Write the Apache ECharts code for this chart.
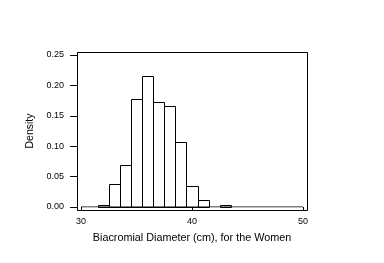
<!DOCTYPE html>
<html><head><meta charset="utf-8">
<script src="https://cdn.jsdelivr.net/npm/echarts@6/dist/echarts.min.js"></script>
<style>html,body{margin:0;padding:0;background:#fff}#c{width:384px;height:263px}</style>
</head><body><div id="c"></div>
<script>
var binCenters = [32, 33, 34, 35, 36, 37, 38, 39, 40, 41, 42, 43];
var densities = [0.0038, 0.0385, 0.0692, 0.1769, 0.2154, 0.1731, 0.1654, 0.1077, 0.0346, 0.0115, 0, 0.0038];
var binWidth = 1;
var xTicks = [30, 40, 50];
var yTicks = [0, 0.05, 0.10, 0.15, 0.20, 0.25];
var xTitle = 'Biacromial Diameter (cm), for the Women';
var yTitle = 'Density';

var barData = binCenters.map(function (c, i) { return [c - binWidth / 2, c + binWidth / 2, densities[i]]; })
  .filter(function (d) { return d[2] > 0; });

var chart = echarts.init(document.getElementById('c'), null, {renderer: 'canvas'});
var font = 'Liberation Sans, Arial, sans-serif';
chart.setOption({
  animation: false,
  backgroundColor: '#fff',
  grid: {left: 81, top: 55, width: 222, height: 152},
  xAxis: {
    type: 'value', min: xTicks[0], max: xTicks[xTicks.length - 1], interval: 10,
    offset: 3,
    axisLine: {show: false},
    axisTick: {show: true, length: 3.5, lineStyle: {color: '#000'}},
    axisLabel: {color: '#000', fontSize: 9, fontFamily: font, margin: 7},
    splitLine: {show: false},
    name: xTitle, nameLocation: 'middle', nameGap: 23,
    nameTextStyle: {color: '#000', fontSize: 10.8, fontFamily: font}
  },
  yAxis: {
    type: 'value', min: yTicks[0], max: yTicks[yTicks.length - 1], interval: 0.05,
    offset: 4,
    axisLine: {show: false},
    axisTick: {show: true, length: 7, lineStyle: {color: '#000'}},
    axisLabel: {color: '#000', fontSize: 9, fontFamily: font, margin: 13,
      formatter: function (v) { return v.toFixed(2); }},
    splitLine: {show: false},
    name: yTitle, nameLocation: 'middle', nameGap: 40,
    nameTextStyle: {color: '#000', fontSize: 10.5, fontFamily: font}
  },
  graphic: [{
    type: 'rect', silent: true, z: 10,
    shape: {x: 77.5, y: 52.5, width: 230, height: 158},
    style: {fill: 'none', stroke: '#000', lineWidth: 1}
  }],
  series: [{
    type: 'line', silent: true, symbol: 'none',
    data: [[xTicks[0], 0], [xTicks[xTicks.length - 1], 0]],
    lineStyle: {color: '#000', width: 1}
  }, {
    type: 'custom', silent: true,
    data: barData,
    renderItem: function (params, api) {
      var p0 = api.coord([api.value(0), 0]);
      var p1 = api.coord([api.value(1), api.value(2)]);
      var x0 = Math.round(p0[0]) + 0.5, x1 = Math.round(p1[0]) + 0.5;
      var y0 = Math.round(p0[1]) + 0.5, y1 = Math.round(p1[1]) + 0.5;
      return {
        type: 'rect',
        shape: {x: x0, y: y1, width: x1 - x0, height: y0 - y1},
        style: {fill: '#fff', stroke: '#000', lineWidth: 1}
      };
    }
  }]
});
</script></body></html>
